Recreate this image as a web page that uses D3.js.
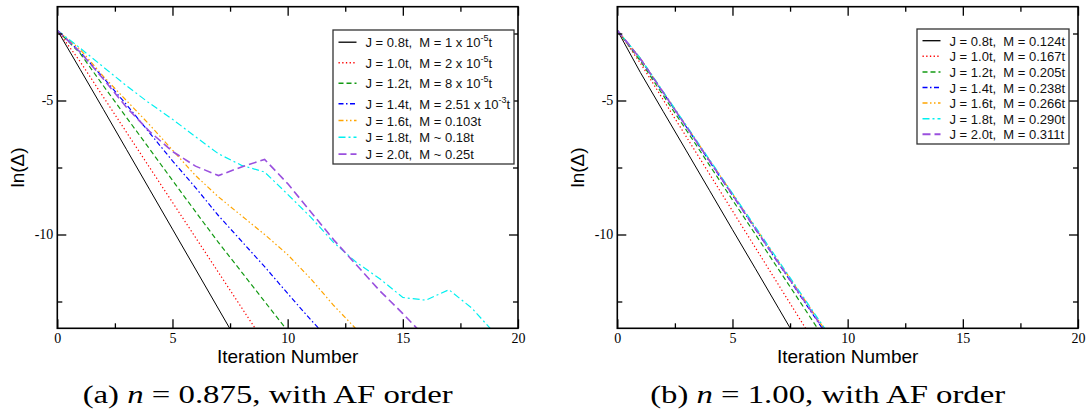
<!DOCTYPE html>
<html>
<head>
<meta charset="utf-8">
<script src="https://cdn.jsdelivr.net/npm/d3@7"></script>
<style>
body { margin: 0; background: #fff; }
text { white-space: pre; }
</style>
</head>
<body>
<svg width="1090" height="418"></svg>
<script>
// ln(Delta) per iteration, index = iteration number
// (a) n = 0.875
var a_j08 = [-2.38, -3.85, -5.33, -6.82, -8.31, -9.8, -11.29, -12.78, -14.27];
var a_j10 = [-2.38, -3.56, -4.87, -6.18, -7.49, -8.8, -10.11, -11.42, -12.73, -14.04];
var a_j12 = [-2.38, -3.25, -4.45, -5.63, -6.8, -7.98, -9.15, -10.3, -11.4, -12.5, -13.6];
var a_j14 = [-2.38, -3.2, -4.15, -5.15, -6.2, -7.25, -8.25, -9.3, -10.25, -11.2, -12.2, -13.18, -14.1];
var a_j16 = [-2.38, -3.1, -4.1, -5.0, -5.9, -6.85, -7.8, -8.6, -9.3, -10.0, -10.75, -11.65, -12.65, -13.55];
var a_j18 = [-2.38, -3.05, -3.75, -4.45, -5.1, -5.7, -6.35, -6.99, -7.42, -7.67, -8.5, -9.35, -10.3, -11.05, -11.65, -12.35, -12.45, -12.06, -12.75, -13.7];
var a_j20 = [-2.38, -3.2, -4.2, -5.25, -6.15, -6.9, -7.45, -7.8, -7.48, -7.2, -8.1, -9.15, -10.2, -11.15, -12.1, -12.95, -13.85];

// (b) n = 1.00
var b_j08 = [-2.38, -3.95, -5.42, -6.88, -8.35, -9.82, -11.28, -12.75, -14.22];
var b_j10 = [-2.38, -3.6, -4.98, -6.36, -7.74, -9.12, -10.5, -11.88, -13.26, -14.64];
var b_j12 = [-2.38, -3.52, -4.82, -6.11, -7.41, -8.71, -10.0, -11.3, -12.6, -13.9];
var b_j14 = [-2.38, -3.45, -4.72, -5.99, -7.27, -8.54, -9.81, -11.08, -12.36, -13.63];
var b_j16 = [-2.38, -3.42, -4.69, -5.95, -7.22, -8.48, -9.75, -11.01, -12.27, -13.54];
var b_j18 = [-2.38, -3.42, -4.68, -5.94, -7.2, -8.46, -9.72, -10.98, -12.24, -13.5];
var b_j20 = [-2.38, -3.44, -4.71, -5.98, -7.25, -8.52, -9.79, -11.06, -12.33, -13.6];

// legend labels, {..} = superscript
var labelsA = ["J = 0.8t,  M = 1 x 10{-5}t", "J = 1.0t,  M = 2 x 10{-5}t", "J = 1.2t,  M = 8 x 10{-5}t",
  "J = 1.4t,  M = 2.51 x 10{-3}t", "J = 1.6t,  M = 0.103t", "J = 1.8t,  M ~ 0.18t", "J = 2.0t,  M ~ 0.25t"];
var labelsB = ["J = 0.8t,  M = 0.124t", "J = 1.0t,  M = 0.167t", "J = 1.2t,  M = 0.205t",
  "J = 1.4t,  M = 0.238t", "J = 1.6t,  M = 0.266t", "J = 1.8t,  M = 0.290t", "J = 2.0t,  M = 0.311t"];

var xMajor = [0, 5, 10, 15, 20], xMinor = [2.5, 7.5, 12.5, 17.5];
var yMajor = [-5, -10], yMinor = [-2.5, -7.5, -12.5];

var colors = ["#000000", "#ff0000", "#139a13", "#0000ff", "#ffa500", "#00f0f0", "#9a50de"];
var dashes = [null, "1.3,2.4", "5,3", "5,2.5,1.5,2.5", "5,2.5,1.5,2.5,1.5,2.5", "7,3,2,3", "8,4"];
var widths = [1, 1.2, 1.2, 1.2, 1.2, 1.2, 1.6];

var svg = d3.select("svg");
svg.append("rect").attr("width", 1090).attr("height", 418).attr("fill", "#fff");

var plotW = 460.7, plotH = 321.6;

drawPanel({
  id: "a", left: 57.3, top: 6.7,
  series: [a_j08, a_j10, a_j12, a_j14, a_j16, a_j18, a_j20],
  labels: labelsA,
  legend: {x: 275.7, y: 23.3, w: 181, h: 134, first: 12.2, supStep: 20.5, step: 16.8},
  caption: ["(a) ", "n", " = 0.875, with AF order"], capLen: 370
});
drawPanel({
  id: "b", left: 617.3, top: 6.7,
  series: [b_j08, b_j10, b_j12, b_j14, b_j16, b_j18, b_j20],
  labels: labelsB,
  legend: {x: 299.7, y: 22.3, w: 152, h: 115, first: 11.7, supStep: 15.6, step: 15.6},
  caption: ["(b) ", "n", " = 1.00, with AF order"], capLen: 355
});

function hasSup(s) { return s.indexOf("{") >= 0; }

function drawPanel(p) {
  var x = d3.scaleLinear().domain([0, 20]).range([0, plotW]);
  var y = d3.scaleLinear().domain([-13.5, -1.5]).range([plotH, 0]);
  var g = svg.append("g").attr("transform", "translate(" + p.left + "," + p.top + ")");

  g.append("clipPath").attr("id", "clip" + p.id)
    .append("rect").attr("width", plotW).attr("height", plotH);

  var line = d3.line()
    .x(function(d, i) { return x(i); })
    .y(function(d) { return y(d); });

  g.append("g").attr("clip-path", "url(#clip" + p.id + ")")
    .selectAll("path")
    .data(p.series)
    .enter().append("path")
    .attr("d", line)
    .attr("fill", "none")
    .attr("stroke", function(d, i) { return colors[i]; })
    .attr("stroke-width", function(d, i) { return widths[i]; })
    .attr("stroke-dasharray", function(d, i) { return dashes[i]; });

  // axes, ticks pointing inward on all four sides
  function styleAxis(sel) {
    sel.select(".domain").remove();
    sel.selectAll("line").attr("stroke", "#000").attr("stroke-width", 1.3);
    sel.selectAll("text").attr("font-family", "'Liberation Serif', serif").attr("font-size", 14).attr("fill", "#000");
  }
  var fmt = function(d) { return String(d); };
  g.append("g").attr("transform", "translate(0," + plotH + ")")
    .call(d3.axisBottom(x).tickValues(xMajor).tickSize(-9).tickPadding(5).tickFormat(fmt)).call(styleAxis);
  g.append("g").attr("transform", "translate(0," + plotH + ")")
    .call(d3.axisBottom(x).tickValues(xMinor).tickSize(-5).tickFormat("")).call(styleAxis);
  g.append("g").call(d3.axisTop(x).tickValues(xMajor).tickSize(-9).tickFormat("")).call(styleAxis);
  g.append("g").call(d3.axisTop(x).tickValues(xMinor).tickSize(-5).tickFormat("")).call(styleAxis);
  g.append("g").call(d3.axisLeft(y).tickValues(yMajor).tickSize(-9).tickPadding(4).tickFormat(fmt)).call(styleAxis);
  g.append("g").call(d3.axisLeft(y).tickValues(yMinor).tickSize(-5).tickFormat("")).call(styleAxis);
  g.append("g").attr("transform", "translate(" + plotW + ",0)")
    .call(d3.axisRight(y).tickValues(yMajor).tickSize(-9).tickFormat("")).call(styleAxis);
  g.append("g").attr("transform", "translate(" + plotW + ",0)")
    .call(d3.axisRight(y).tickValues(yMinor).tickSize(-5).tickFormat("")).call(styleAxis);

  g.append("rect").attr("width", plotW).attr("height", plotH)
    .attr("fill", "none").attr("stroke", "#000").attr("stroke-width", 1.6);

  // axis titles
  g.append("text")
    .attr("x", plotW / 2).attr("y", 356.3)
    .attr("text-anchor", "middle")
    .attr("font-family", "'Liberation Sans', Arial, sans-serif").attr("font-size", 19)
    .text("Iteration Number");
  g.append("text")
    .attr("transform", "translate(-33.3," + plotH / 2 + ") rotate(-90)")
    .attr("text-anchor", "middle")
    .attr("font-family", "'Liberation Sans', Arial, sans-serif").attr("font-size", 19)
    .text("ln(\u0394)");

  // legend
  var L = p.legend;
  var lg = g.append("g").attr("transform", "translate(" + L.x + "," + L.y + ")");
  lg.append("rect").attr("width", L.w).attr("height", L.h)
    .attr("fill", "#fff").attr("stroke", "#333").attr("stroke-width", 1.3);
  var rowY = [], yy = L.first;
  p.labels.forEach(function(s, i) {
    if (i > 0) yy += hasSup(s) ? L.supStep : L.step;
    rowY.push(yy);
  });
  p.labels.forEach(function(s, i) {
    lg.append("line")
      .attr("x1", 5.5).attr("x2", 23.5).attr("y1", rowY[i]).attr("y2", rowY[i])
      .attr("stroke", colors[i]).attr("stroke-width", widths[i] + 0.3)
      .attr("stroke-dasharray", dashes[i]);
    var t = lg.append("text")
      .attr("x", 32.5).attr("y", rowY[i] + 5)
      .attr("font-family", "'Liberation Sans', Arial, sans-serif").attr("font-size", 13)
      .attr("fill", "#111");
    var parts = s.split(/\{(.*?)\}/);
    parts.forEach(function(part, k) {
      if (k % 2 === 1) {
        t.append("tspan").attr("font-size", 9).attr("dy", -6).text(part);
      } else if (k > 0) {
        t.append("tspan").attr("dy", 6).text(part);
      } else {
        t.append("tspan").text(part);
      }
    });
  });

  // caption below the panel
  var cap = g.append("text")
    .attr("x", plotW / 2 - 20).attr("y", 396.3)
    .attr("text-anchor", "middle")
    .attr("font-family", "'Liberation Serif', 'Times New Roman', serif").attr("font-size", 26)
    .attr("textLength", p.capLen).attr("lengthAdjust", "spacingAndGlyphs");
  cap.append("tspan").text(p.caption[0]);
  cap.append("tspan").attr("font-style", "italic").text(p.caption[1]);
  cap.append("tspan").text(p.caption[2]);
}
</script>
</body>
</html>
